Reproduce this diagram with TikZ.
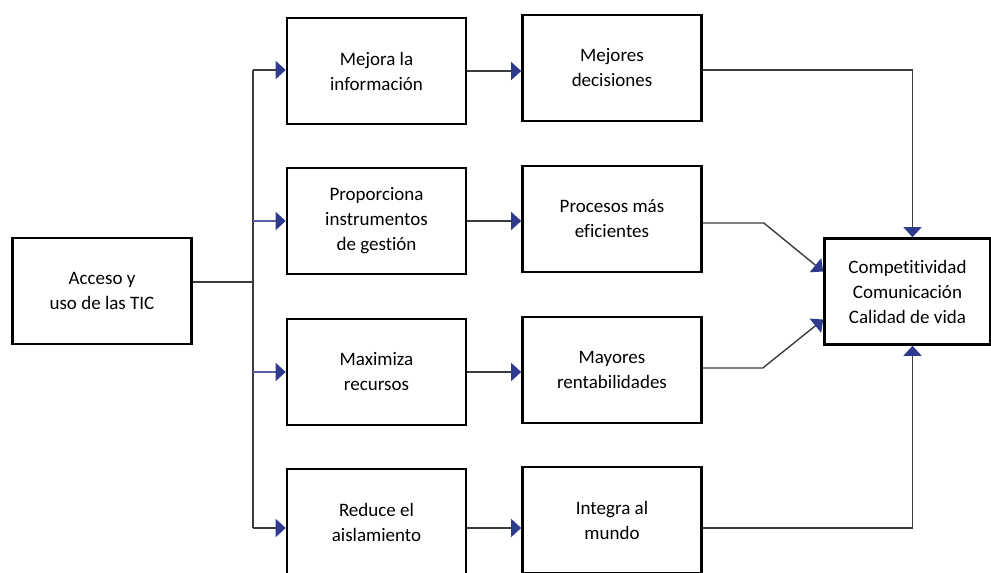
\documentclass[tikz,border=0pt]{standalone}
\usepackage{fontspec}
\setmainfont{Carlito}[Ligatures={NoCommon}]
\usetikzlibrary{arrows.meta}
\definecolor{azul}{RGB}{46,58,140}
\definecolor{gris}{RGB}{60,60,60}
\def\punta{-{Triangle[length=10pt,width=18pt,color=azul]}}

\begin{document}
\begin{tikzpicture}[x=1pt,y=-1pt,
    caja/.style={draw,line width=2.6pt,minimum width=179pt,minimum height=106pt,
        align=center,font=\fontsize{19}{25}\selectfont},
    linea/.style={draw=gris,line width=1.4pt},
    flecha/.style={linea,\punta},
    ramal/.style={flecha,draw=azul!80}]
                \clip (0,0) rectangle (991,573);
                \node[caja] (tic)  at (102,291)   {Acceso y\\uso de las TIC};
                \node[caja] (info) at (376.5,71)  {Mejora la\\información};
                \node[caja] (gest) at (376.5,221) {Proporciona\\instrumentos\\de gestión};
                \node[caja] (recu) at (376.5,372) {Maximiza\\recursos};
                \node[caja] (aisl) at (376.5,522) {Reduce el\\aislamiento};
                \node[caja] (deci) at (612,68)    {Mejores\\decisiones};
                \node[caja] (proc) at (612,219)   {Procesos más\\eficientes};
                \node[caja] (rent) at (612,370)   {Mayores\\rentabilidades};
                \node[caja] (mund) at (612,520)   {Integra al\\mundo};
                \node[caja,minimum width=166pt] (comp) at (907.5,291.5)
                    {Competitividad\\Comunicación\\Calidad de vida};
                % tronco
                \coordinate (arr) at (253,70);
                \coordinate (aba) at (253,528);
                \draw[linea] ([yshift=9pt]tic.east) -- (arr |- 0,282);
                \draw[linea] (arr) -- (aba);
                \draw[flecha] (arr) -- (arr -| info.west);
                \draw[ramal]  (gest.west -| arr) -- (gest.west);
                \draw[ramal]  (recu.west -| arr) -- (recu.west);
                \draw[flecha] (aba) -- (aba -| aisl.west);
                % segunda columna
                \draw[flecha] (info.east) -- (info.east -| deci.west);
                \draw[flecha] (gest.east) -- (gest.east -| proc.west);
                \draw[flecha] (recu.east) -- (recu.east -| rent.west);
                \draw[flecha] (aba -| aisl.east) -- (aba -| mund.west);
                % hacia la derecha
                \draw[flecha] ([yshift=-2pt]deci.east) -| ([xshift=5pt]comp.north);
                \draw[flecha] ([yshift=-4pt]proc.east) -- ++(61,0) -- ([yshift=20pt]comp.west);
                \draw[flecha] ([yshift=2pt]rent.east) -- ++(60,0) -- ([yshift=-28pt]comp.west);
                \draw[flecha] (aba -| mund.east) -| ([xshift=5pt]comp.south);
            \end{tikzpicture}
\end{document}
